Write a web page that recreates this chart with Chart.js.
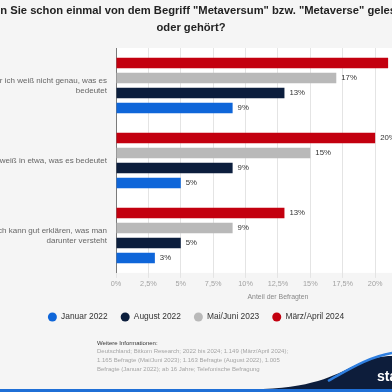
<!DOCTYPE html>
<html lang="de">
<head>
<meta charset="utf-8">
<title>Metaversum – Bekanntheit</title>
<script src="https://cdn.jsdelivr.net/npm/chart.js@4.4.1/dist/chart.umd.min.js"></script>
<style>
  html, body { margin: 0; padding: 0; background: #f5f5f5; overflow: hidden; }
  #wrap { position: relative; width: 392px; height: 392px; font-family: 'Liberation Sans', Arial, sans-serif; }
  #chart { position: absolute; left: 0; top: 0; }
  .info { position: absolute; left: 97px; top: 338.6px; font-size: 6px; line-height: 8.8px; color: #a5a5a5; white-space: nowrap; }
  .info .head { color: #333; }
  .logo { position: absolute; left: 0; top: 0; }
</style>
</head>
<body>
<div id="wrap">
  <canvas id="chart" width="392" height="392"></canvas>
  <div class="info">
    <div class="head">Weitere Informationen:</div>
    <div>Deutschland; Bitkom Research; 2022 bis 2024; 1.149 (März/April 2024);</div>
    <div>1.165 Befragte (Mai/Juni 2023); 1.163 Befragte (August 2022), 1.005</div>
    <div>Befragte (Januar 2022); ab 16 Jahre; Telefonische Befragung</div>
  </div>
  <svg class="logo" width="392" height="392" viewBox="0 0 392 392">
    <path d="M263,389 C318,387 338,373 358,364 C371,358 382,356 392,356 L392,392 L263,392 Z" fill="#0d1d3b"/>
    <path d="M328,381 C348,370 368,357 392,353" fill="none" stroke="#2f7fe0" stroke-width="2.5"/>
    <text x="377" y="381" fill="#fff" font-family="Liberation Sans, Arial, sans-serif" font-weight="bold" font-size="14">sta</text>
    <rect x="0" y="389" width="392" height="3" fill="#1f6fd6"/>
  </svg>
</div>

<script>
// --- data ---
const titleLines = ['Haben Sie schon einmal von dem Begriff "Metaversum" bzw. "Metaverse" gelesen', 'oder gehört?'];
const categories = [
  ['Ich habe davon gehört, aber ich weiß nicht genau, was es', 'bedeutet'],
  ['Ich weiß in etwa, was es bedeutet'],
  ['Ich kann gut erklären, was man', 'darunter versteht'],
];
const seriesNames = ['Januar 2022', 'August 2022', 'Mai/Juni 2023', 'März/April 2024'];
const jan2022 = [9, 5, 3];
const aug2022 = [13, 9, 5];
const maiJuni2023 = [17, 15, 9];
const maerzApril2024 = [21, 20, 13];
const xTicks = [0, 2.5, 5, 7.5, 10, 12.5, 15, 17.5, 20];
const axisTitle = 'Anteil der Befragten';

const COLORS = {
  blue: '#0f66d9',
  navy: '#0c1e3d',
  gray: '#b9b9b9',
  red: '#c3000f',
};

Chart.defaults.font.family = "'Liberation Sans', Arial, sans-serif";

const pct = v => String(v).replace('.', ',') + '%';

// white plot background behind the answer groups
const bandsPlugin = {
  id: 'bands',
  beforeDraw(chart) {
    const { ctx, chartArea: a } = chart;
    ctx.save();
    ctx.fillStyle = '#ffffff';
    ctx.fillRect(a.left, a.top, a.right - a.left, a.bottom - a.top);
    ctx.restore();
  },
};

const valueLabelsPlugin = {
  id: 'valueLabels',
  afterDatasetsDraw(chart) {
    const { ctx } = chart;
    ctx.save();
    ctx.font = "7.8px 'Liberation Sans', Arial, sans-serif";
    ctx.fillStyle = '#333';
    ctx.textBaseline = 'middle';
    ctx.textAlign = 'left';
    chart.data.datasets.forEach((ds, di) => {
      chart.getDatasetMeta(di).data.forEach((bar, i) => {
        ctx.fillText(pct(ds.data[i]), bar.x + 5, bar.y);
      });
    });
    ctx.restore();
  },
};

// header title and axis title drawn by hand so the long line is cropped, not squeezed
const textPlugin = {
  id: 'texts',
  afterDraw(chart) {
    const { ctx, scales: { x } } = chart;
    ctx.save();
    ctx.textAlign = 'center';
    ctx.textBaseline = 'middle';
    ctx.fillStyle = '#222';
    ctx.font = "bold 11.2px 'Liberation Sans', Arial, sans-serif";
    titleLines.forEach((t, i) => ctx.fillText(t, 191, 11 + i * 17));
    ctx.fillStyle = '#888';
    ctx.font = "6.9px 'Liberation Sans', Arial, sans-serif";
    ctx.fillText(axisTitle, x.getPixelForValue(12.5), 297);
    ctx.restore();
  },
};

new Chart(document.getElementById('chart'), {
  type: 'bar',
  data: {
    labels: categories,
    datasets: [
      { label: seriesNames[3], data: maerzApril2024, backgroundColor: COLORS.red },
      { label: seriesNames[2], data: maiJuni2023, backgroundColor: COLORS.gray },
      { label: seriesNames[1], data: aug2022, backgroundColor: COLORS.navy },
      { label: seriesNames[0], data: jan2022, backgroundColor: COLORS.blue },
    ],
  },
  options: {
    indexAxis: 'y',
    responsive: false,
    animation: false,
    layout: { padding: { top: 48, right: 0, bottom: 60.85, left: 0 } },
    datasets: { bar: { categoryPercentage: 0.8, barPercentage: 0.7, borderWidth: 0 } },
    scales: {
      x: {
        min: 0,
        max: 21.3, // the original axis runs on past the right edge of the crop
        grid: { color: '#e4e4e4', tickLength: 5 },
        border: { display: false },
        ticks: { padding: 2, color: '#a3a3a3', font: { size: 7.3 }, callback: v => pct(v) },
        afterBuildTicks(s) { s.ticks = xTicks.map(v => ({ value: v })); },
        afterFit(s) { s.height = 26.85; },
      },
      y: {
        grid: { display: false, drawTicks: false },
        border: { display: true, color: '#7a7a7a', width: 1 },
        ticks: { padding: 9, color: '#666', font: { size: 8, lineHeight: 1.25 } },
        afterFit(s) { s.width = 116; },
      },
    },
    plugins: {
      title: { display: false },
      tooltip: { enabled: false },
      legend: {
        position: 'bottom',
        reverse: true,
        labels: {
          usePointStyle: true,
          pointStyle: 'circle',
          pointStyleWidth: 9,
          boxHeight: 6.4,
          padding: 13,
          color: '#333',
          font: { size: 8.4 },
        },
      },
    },
  },
  plugins: [bandsPlugin, valueLabelsPlugin, textPlugin],
});
</script>
</body>
</html>
